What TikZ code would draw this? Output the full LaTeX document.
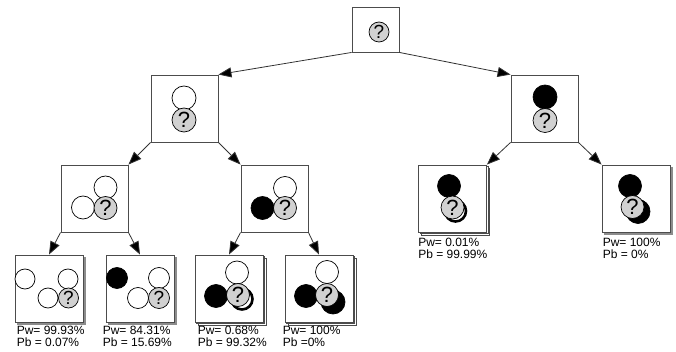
\documentclass[tikz,border=0pt]{standalone}
\usepackage{fontspec}
\setmainfont{Liberation Sans}
\usetikzlibrary{arrows.meta,shadows,calc}

\begin{document}
\begin{tikzpicture}[x=1pt,y=-1pt,
board/.style={draw=black!70,line width=0.9pt,fill=white,
  minimum width=67pt,minimum height=67pt,inner sep=0pt},
leafflat/.style={board,copy shadow={shadow xshift=2pt,shadow yshift=-2pt,
  draw=black!45,fill=black!45}},
leafstack/.style={board,double copy shadow={shadow xshift=1.5pt,
  shadow yshift=-1.5pt,draw=black!70,line width=0.7pt}},
wst/.style={circle,draw=black,line width=0.7pt,fill=white,
  minimum size=#1,inner sep=0pt},
wst/.default=23pt,
bst/.style={wst=#1,fill=black},
bst/.default=23pt,
rst/.style={wst=#1,line width=2.6pt},
rst/.default=21pt,
qst/.style={wst=#1,fill=black!18,font=\fontsize{22}{22}\selectfont},
qst/.default=23pt,
prob/.style={anchor=north west,align=left,inner sep=0pt,
  font=\fontsize{12}{12}\selectfont},
link/.style={draw=black!80,line width=0.8pt,
  -{Triangle[length=13pt,width=10pt,fill=black]}}]
\useasboundingbox (0,0) rectangle (676,352);

% boards
\node[board,minimum width=47pt,minimum height=45pt] (root) at (375.5,29.5) {};
\node[board] (l1a) at (184.5,108.5) {};
\node[board] (l1b) at (544.5,108.5) {};
\node[board] (l2a) at (94.5,198.5) {};
\node[board] (l2b) at (274.5,198.5) {};
\node[leafstack,minimum width=68pt] (l2c) at (452.5,198.5) {};
\node[leafflat,minimum width=68pt] (l2d) at (636,198.5) {};
\node[leafflat,minimum width=68pt] (l3a) at (49,288.5) {};
\node[leafflat,minimum width=68pt] (l3b) at (140,288.5) {};
\node[leafstack,minimum width=68pt] (l3c) at (229,288.5) {};
\node[leafstack,minimum width=68pt] (l3d) at (319,288.5) {};

% stones
\node[qst=20pt,font=\fontsize{19}{19}\selectfont] (q0) at (379,32) {?};

\node[wst=24pt] (w1a) at (184,98) {};
\node[qst=24pt] (q1a) at (184,120) {?};
\node[bst=24pt] (b1b) at (545,97) {};
\node[qst=24pt] (q1b) at (545,120.5) {?};

\node[wst] (w2a1) at (105.5,187.5) {};
\node[wst] (w2a2) at (83,207.5) {};
\node[qst] (q2a) at (105.5,208) {?};

\node[wst] (w2b) at (285,188) {};
\node[bst] (b2b) at (262.5,208) {};
\node[qst] (q2b) at (285,208) {?};

\node[bst] (b2c) at (449,186) {};
\node[rst] (r2c) at (455.5,211) {};
\node[qst] (q2c) at (452.5,207.5) {?};

\node[bst] (b2d1) at (630,186) {};
\node[bst=24pt] (b2d2) at (638,211.5) {};
\node[qst] (q2d) at (632.5,207) {?};

\node[wst=20pt] (w3a1) at (25,279) {};
\node[wst=20pt] (w3a2) at (68,279) {};
\node[wst=20pt] (w3a3) at (48,298) {};
\node[qst=20pt,font=\fontsize{19}{19}\selectfont] (q3a) at (68.5,298) {?};

\node[bst=21pt] (b3b) at (117,278) {};
\node[wst=21pt] (w3b1) at (159,278) {};
\node[wst=21pt] (w3b2) at (138,298) {};
\node[qst=21pt,font=\fontsize{19}{19}\selectfont] (q3b) at (159,298) {?};

\node[wst] (w3c) at (237,272.5) {};
\node[bst] (b3c) at (216,296) {};
\node[rst] (r3c) at (242,299) {};
\node[qst] (q3c) at (238,295) {?};

\node[wst] (w3d) at (327,272) {};
\node[bst] (b3d1) at (306,296) {};
\node[bst=24pt] (b3d2) at (333,302) {};
\node[qst] (q3d) at (327,295) {?};

% probabilities
\node[prob] (p2c) at ($(l2c.south west)+(0,5)$) {Pw= 0.01\%\\Pb = 99.99\%};
\node[prob] (p2d) at ($(l2d.south west)+(1,5)$) {Pw= 100\%\\Pb = 0\%};
\node[prob] (p3a) at ($(l3a.south west)+(2,3)$) {Pw= 99.93\%\\Pb = 0.07\%};
\node[prob] (p3b) at ($(l3b.south west)+(-3,3)$) {Pw= 84.31\%\\Pb = 15.69\%};
\node[prob] (p3c) at ($(l3c.south west)+(3,3)$) {Pw= 0.68\%\\Pb = 99.32\%};
\node[prob] (p3d) at ($(l3d.south west)+(-2,3)$) {Pw= 100\%\\Pb =0\%};

% links
\draw[link] (root.south west) -- (l1a.north east);
\draw[link] (root.south east) -- (l1b.north west);
\draw[link] (l1a.south west) -- (l2a.north east);
\draw[link] (l1a.south east) -- (l2b.north west);
\draw[link] (l1b.south west) -- (l2c.north east);
\draw[link] (l1b.south east) -- (l2d.north west);
\draw[link] (l2a.south west) -- (l3a.north);
\draw[link] (l2a.south east) -- (l3b.north);
\draw[link] (l2b.south west) -- (l3c.north);
\draw[link] (l2b.south east) -- (l3d.north);
\end{tikzpicture}
\end{document}
